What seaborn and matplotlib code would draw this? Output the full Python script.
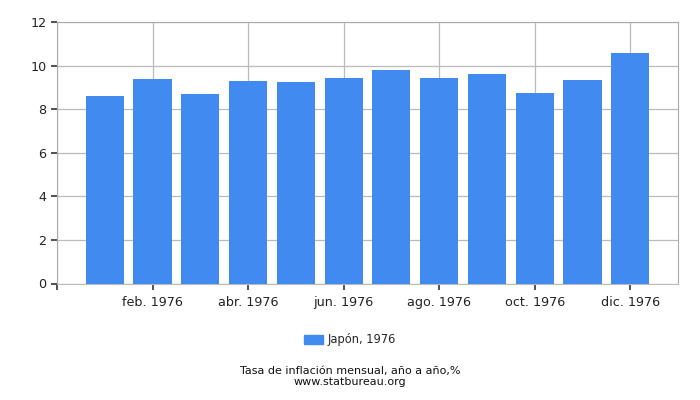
import seaborn as sns
import matplotlib.pyplot as plt
import pandas as pd
from matplotlib.patches import Patch

months = ["ene.", "feb.", "mar.", "abr.", "may.", "jun.",
          "jul.", "ago.", "sep.", "oct.", "nov.", "dic."]
values = [8.62, 9.40, 8.71, 9.31, 9.26, 9.45,
          9.82, 9.45, 9.63, 8.76, 9.36, 10.60]
series_label = "Japón, 1976"
year = "1976"
bar_color = "#418BF0"

sns.set_style("ticks", {"axes.grid": True, "grid.color": "#bbbbbb",
                        "axes.edgecolor": "#aaaaaa"})
plt.rcParams['font.family'] = ['DejaVu Sans']

df = pd.DataFrame({"month": [f"{m} {year}" for m in months], "value": values})

fig = plt.figure(figsize=(7, 4), dpi=100)
ax = fig.add_axes([57 / 700, 1 - 283.5 / 400, (678 - 57) / 700, (283.5 - 22) / 400])

sns.barplot(data=df, x="month", y="value", color=bar_color, width=0.8,
            saturation=1, linewidth=0, ax=ax, zorder=3)

ax.set_xlim(-1, 12)
ax.set_ylim(0, 12)
ax.set_yticks(range(0, 13, 2))
# an unlabelled tick sits at the left corner, as in the original
tick_idx = [-1] + list(range(1, 12, 2))
ax.set_xticks(tick_idx)
ax.set_xticklabels([""] + [df["month"][i] for i in tick_idx[1:]])
ax.set_xlabel("")
ax.set_ylabel("")

ax.grid(True, color="#bbbbbb", linewidth=0.9, zorder=0)
ax.set_axisbelow(True)
ax.spines["bottom"].set_color("#bbbbbb")
ax.tick_params(axis="both", which="major", direction="out", length=4, width=1.1,
               colors="#222222", labelsize=9.2)
ax.tick_params(axis="x", pad=5)

fig.legend(handles=[Patch(color=bar_color, label=series_label)],
           loc="center", bbox_to_anchor=(0.5, 1 - 340 / 400), frameon=False,
           fontsize=8.3, handlelength=1.7, handleheight=0.7, handletextpad=0.4)

fig.text(0.5, 1 - 371 / 400, "Tasa de inflación mensual, año a año,%",
         ha="center", va="center", fontsize=8, color="#111111")
fig.text(0.5, 1 - 382 / 400, "www.statbureau.org",
         ha="center", va="center", fontsize=8, color="#111111")

fig.savefig("out.png", dpi=100)
